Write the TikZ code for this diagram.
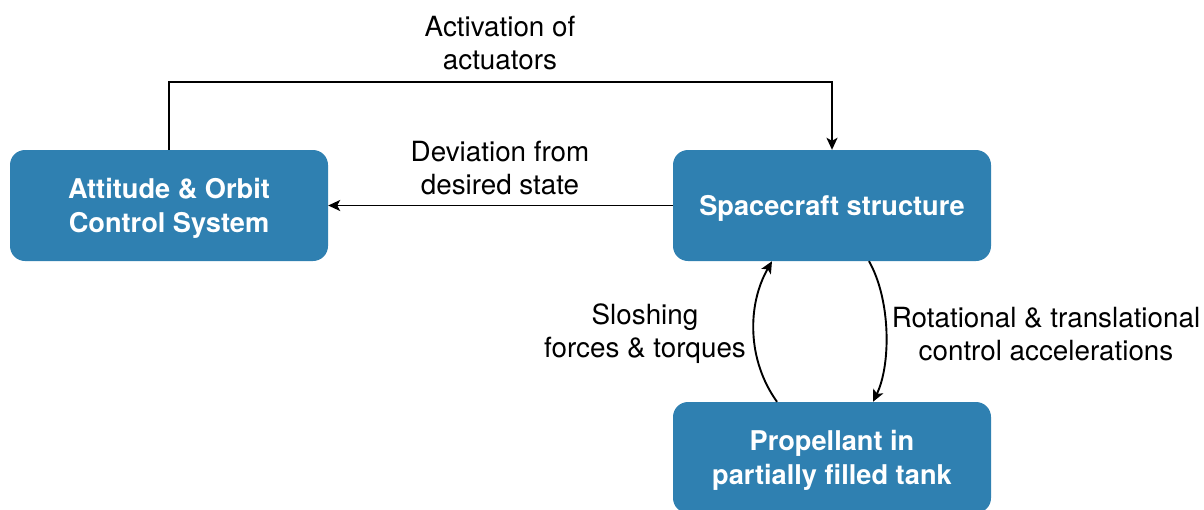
\documentclass[tikz,border=0pt]{standalone}
\usepackage{fontspec}
\setmainfont{TeX Gyre Heros}
\usetikzlibrary{arrows.meta}
\definecolor{boxblue}{RGB}{47,128,177}
\begin{document}
\begin{tikzpicture}[x=1pt,y=-1pt,
  block/.style={fill=boxblue, rounded corners=15pt, minimum width=318pt,
    minimum height=111pt, inner sep=0pt},
  blocktext/.style={text=white, align=center, inner sep=0pt,
    font=\fontsize{27.2}{33.5}\selectfont\bfseries},
  lbl/.style={align=center, font=\fontsize{27.8}{33}\selectfont},
  arr/.style={line width=1.9pt, -{Stealth[length=12pt,width=11pt,inset=3pt]}}]
  \useasboundingbox (0,0) rectangle (1204,509);

  % blocks
  \node[block] (aocs) at (169,205.5) {};
  \node[blocktext] (aocst) at ([yshift=-3pt]aocs.center) {Attitude \& Orbit\\Control System};
  \node[block] (sc)   at (832,205.5) {};
  \node[blocktext] (sct) at ([yshift=-3pt]sc.center) {Spacecraft structure};
  \node[block] (prop) at (832,457.5) {};
  \node[blocktext] (propt) at ([yshift=-3pt]prop.center) {Propellant in\\partially filled tank};

  % actuator loop over the top
  \draw[arr] (aocs.north) -- ++(0,-68) -| (sc.north);
  \node[lbl] (lact) at (500,43) {Activation of\\actuators};

  % state deviation fed back
  \draw[arr] (sc.west) -- (aocs.east);
  \node[lbl] (ldev) at (500,168) {Deviation from\\desired state};

  % sloshing coupling
  \draw[arr] ([xshift=-55pt]prop.north) .. controls (747,360) and (747,305) .. ([xshift=-60pt]sc.south);
  \node[lbl] (lslo) at (645,334) {Sloshing\\forces \& torques};

  \draw[arr] ([xshift=37pt]sc.south) .. controls (891,300) and (891,365) .. ([xshift=41pt]prop.north);
  \node[lbl] (lrot) at (1046,334) {Rotational \& translational\\control accelerations};
\end{tikzpicture}
\end{document}
